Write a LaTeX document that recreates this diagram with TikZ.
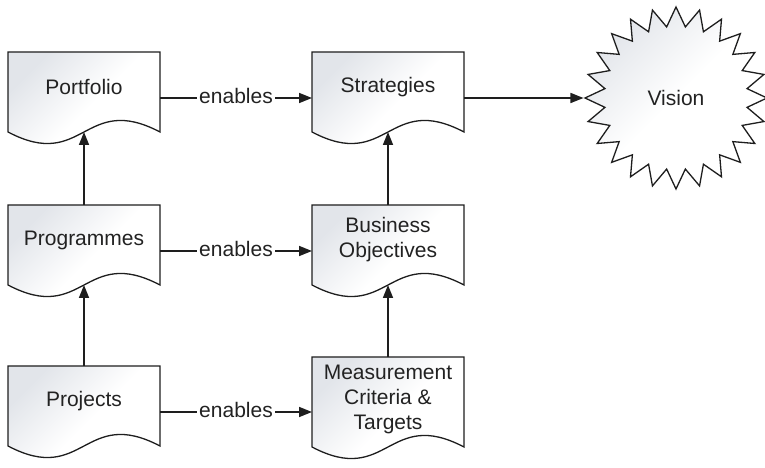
\documentclass[tikz,border=0pt]{standalone}
\usepackage{fontspec}
\setmainfont{Liberation Sans}
\usetikzlibrary{shapes.geometric,arrows.meta,backgrounds}
\definecolor{ink}{HTML}{1E1E1E}
\definecolor{txt}{HTML}{222222}
\definecolor{tint}{HTML}{E2E5EA}
\begin{document}
\begin{tikzpicture}[x=1pt,y=1pt,
  doc/.style={minimum width=152pt, minimum height=92pt, inner sep=0pt, outer sep=0pt},
  doctext/.style={font=\fontsize{21}{25}\selectfont, text=txt, align=center, yshift=11pt},
  arr/.style={draw=ink, line width=1.6pt, -{Triangle[length=13pt,width=10pt]}},
  lbl/.style={font=\fontsize{21}{25}\selectfont, text=txt, fill=white, inner xsep=2pt, inner ysep=1pt, anchor=base, yshift=-5.5pt},
  docshape/.style={draw=ink, line width=1.3pt, top color=tint, bottom color=white, middle color=white, shading angle=45}
]
\useasboundingbox (0,0) rectangle (765,468);
\node[doc, label={[doctext]center:Portfolio}] (port) at (84,370) {};
\node[doc, label={[doctext]center:Strategies}] (strat) at (388,370) {};
\node[doc, label={[doctext]center:Programmes}] (prog) at (84,217) {};
\node[doc, label={[doctext]center:Business\\Objectives}] (bo) at (388,217) {};
\node[doc, label={[doctext]center:Projects}] (proj) at (84,56) {};
\node[doc, minimum height=102pt, label={[doctext, yshift=-2pt]center:Measurement\\Criteria \&\\Targets}] (meas) at (388,60) {};
\node[star, star points=24, star point ratio=1.27, minimum size=182pt, inner sep=0pt, docshape, font=\fontsize{21}{25}\selectfont, text=txt] (vision) at (676,370) {Vision};
\begin{scope}[on background layer]
\foreach \n in {port,strat,prog,bo,proj,meas}
  \path[docshape] (\n.north west) -- (\n.north east) -- ([yshift=12pt]\n.south east)
    .. controls ([yshift=52pt]\n.south) and ([yshift=-28pt]\n.south) .. ([yshift=12pt]\n.south west) -- cycle;
\end{scope}
\draw[arr] (port) -- node[lbl]{enables} (strat);
\draw[arr] (strat) -- (vision);
\draw[arr] (prog) -- node[lbl]{enables} (bo);
\draw[arr] (proj) -- node[lbl]{enables} (proj -| meas.west);
\draw[arr] (prog.north) -- ([yshift=12pt]port.south);
\draw[arr] (bo.north) -- ([yshift=12pt]strat.south);
\draw[arr] (proj.north) -- ([yshift=12pt]prog.south);
\draw[arr] (meas.north) -- ([yshift=12pt]bo.south);
\end{tikzpicture}
\end{document}
